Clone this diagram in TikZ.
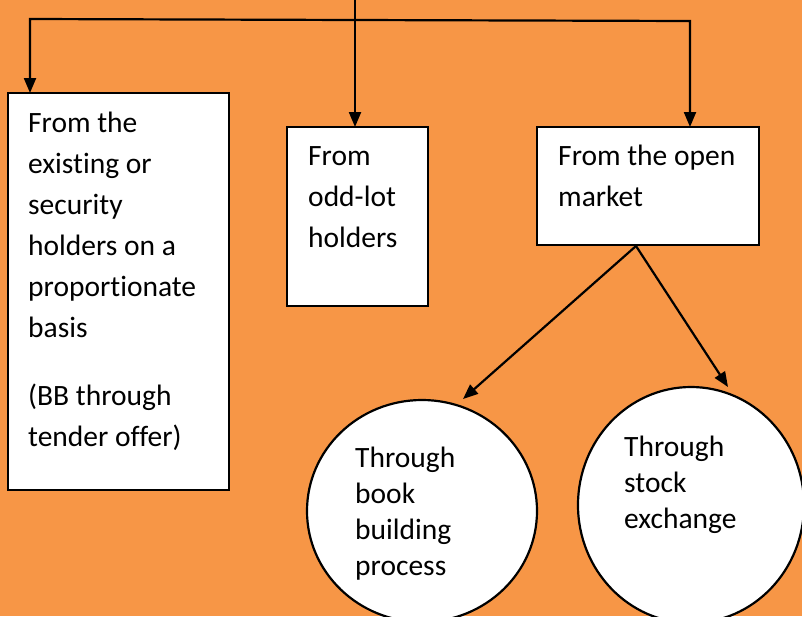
\documentclass[tikz,border=0pt]{standalone}
\usepackage{fontspec}
\setmainfont[Ligatures={NoCommon}]{Carlito}
\usetikzlibrary{arrows.meta,shapes.geometric}
\definecolor{bgorange}{RGB}{247,150,70}
\tikzset{
  conn/.style={draw=black, line width=2.2pt},
  arr/.style={conn, -{Triangle[length=15pt,width=12pt]}},
  boxshape/.style={draw=black, fill=white, line width=2.2pt, rectangle, inner sep=0pt},
  circshape/.style={draw=black, fill=white, line width=2.2pt, ellipse, inner sep=0pt},
  boxtext/.style={anchor=base west, inner sep=0pt, align=left, font=\fontsize{29.5}{41}\selectfont},
  circtext/.style={anchor=base west, inner sep=0pt, align=left, font=\fontsize{29.5}{36}\selectfont}
}
\begin{document}
\begin{tikzpicture}[x=1pt,y=-1pt]
\useasboundingbox (0,0) rectangle (802,616);
\clip (0,0) rectangle (802,616);
\fill[bgorange] (0,0) rectangle (802,616);

% boxes
\node[boxshape, minimum width=221pt, minimum height=397pt] (lbox) at (118.5,291.5) {};
\node[boxshape, minimum width=141pt, minimum height=179pt] (mbox) at (357.5,216.5) {};
\node[boxshape, minimum width=222pt, minimum height=118pt] (obox) at (648,186) {};

% circles
\node[circshape, minimum width=230pt, minimum height=222pt] (c1) at (422,511) {};
\node[circshape, minimum width=226pt, minimum height=236pt] (c2) at (691,505) {};

% texts (base anchor = baseline of last line)
\node[boxtext] (ltext) at (28,446) {From the\\existing or\\security\\holders on a\\proportionate\\basis\\[27pt](BB through\\tender offer)};
\node[boxtext] (mtext) at (308,247) {From\\odd-lot\\holders};
\node[boxtext] (otext) at (558,206) {From the open\\market};
\node[circtext] (c1text) at (355,575) {Through\\book\\building\\process};
\node[circtext] (c2text) at (624,528) {Through\\stock\\exchange};

% connectors
\coordinate (top) at (355,0);
\coordinate (jm) at (355,20);
\coordinate (jl) at (30,19);
\coordinate (jr) at (690,21);
\coordinate (ltip) at (30,93);
\coordinate (rtip) at (690,127);
\coordinate (mtip) at (355,127);
\coordinate (c1tip) at (463,399);
\coordinate (c2tip) at (728,387);
\coordinate (ofoot) at (636,246);

\draw[arr] (top) -- (mtip);
\draw[arr] (jm) -- (jl) -- (ltip);
\draw[arr] (jm) -- (jr) -- (rtip);
\draw[arr] (ofoot) -- (c1tip);
\draw[arr] (ofoot) -- (c2tip);
\end{tikzpicture}
\end{document}
